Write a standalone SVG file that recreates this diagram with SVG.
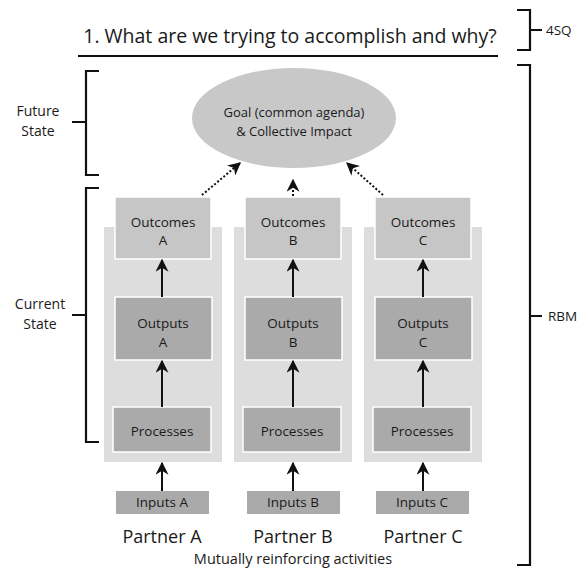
<svg xmlns="http://www.w3.org/2000/svg" width="588" height="568" viewBox="0 0 588 568">
<style>
text{font-family:"Open Sans","Liberation Sans",sans-serif;fill:#1a1a1a;text-anchor:middle}
.br{fill:none;stroke:#111;stroke-width:2.2}
.col{fill:#dddddd}
.oc{fill:#c6c6c6;stroke:#fff;stroke-width:1.5}
.dk{fill:#aaaaaa;stroke:#fff;stroke-width:1.5}
.in{fill:#aaaaaa}
.bx{font-size:13.5px}
.ar{stroke:#111;stroke-width:2;fill:none;marker-end:url(#ah)}
.dt{stroke:#111;stroke-width:2;fill:none;stroke-dasharray:2 2;marker-end:url(#ah)}
</style>
<defs>
<marker id="ah" viewBox="0 0 10 10" refX="9" refY="5" markerWidth="6.5" markerHeight="6.5" orient="auto" markerUnits="strokeWidth">
<path d="M0,0 L10,5 L0,10 L3,5 Z" fill="#111"/>
</marker>
</defs>
<g id="title">
<text x="290" y="43" font-size="19.5">1. What are we trying to accomplish and why?</text>
<line x1="78" y1="56" x2="498" y2="56" stroke="#111" stroke-width="2.2"/>
</g>
<g id="bracket-4sq">
<path class="br" d="M517,10 H530 V50 H517 M530,30 H542"/>
<text x="546" y="35" font-size="13.5" style="text-anchor:start">4SQ</text>
</g>
<g id="bracket-rbm">
<path class="br" d="M517,65 H530 V565 H517 M530,316 H542"/>
<text x="548" y="321" font-size="13.5" style="text-anchor:start">RBM</text>
</g>
<g id="bracket-future">
<path class="br" d="M99,71 H86 V175 H99 M72,122 H86"/>
<text x="38" y="116" font-size="14">Future</text>
<text x="38" y="136" font-size="14">State</text>
</g>
<g id="bracket-current">
<path class="br" d="M99,188 H86 V442 H99 M72,315 H86"/>
<text x="40" y="309" font-size="14">Current</text>
<text x="40" y="329" font-size="14">State</text>
</g>
<g id="goal">
<ellipse cx="294" cy="118" rx="102" ry="50" fill="#c8c8c8"/>
<text x="294" y="117" font-size="13">Goal (common agenda)</text>
<text x="294" y="136" font-size="13">&amp; Collective Impact</text>
</g>
<g id="column-a"><rect class="col" x="104" y="227" width="118" height="235"/></g>
<g id="column-b"><rect class="col" x="234" y="227" width="118" height="235"/></g>
<g id="column-c"><rect class="col" x="364" y="227" width="118" height="235"/></g>
<g id="outcomes-a"><rect class="oc" x="115" y="197" width="96" height="62"/><text class="bx" x="163" y="227">Outcomes</text><text class="bx" x="163" y="245">A</text></g>
<g id="outcomes-b"><rect class="oc" x="245" y="197" width="96" height="62"/><text class="bx" x="293" y="227">Outcomes</text><text class="bx" x="293" y="245">B</text></g>
<g id="outcomes-c"><rect class="oc" x="375" y="197" width="96" height="62"/><text class="bx" x="423" y="227">Outcomes</text><text class="bx" x="423" y="245">C</text></g>
<g id="outputs-a"><rect class="dk" x="115" y="297" width="97" height="63"/><text class="bx" x="163" y="328">Outputs</text><text class="bx" x="163" y="347">A</text></g>
<g id="outputs-b"><rect class="dk" x="245" y="297" width="97" height="63"/><text class="bx" x="293" y="328">Outputs</text><text class="bx" x="293" y="347">B</text></g>
<g id="outputs-c"><rect class="dk" x="375" y="297" width="97" height="63"/><text class="bx" x="423" y="328">Outputs</text><text class="bx" x="423" y="347">C</text></g>
<g id="processes-a"><rect class="dk" x="113" y="407" width="98" height="45"/><text class="bx" x="162" y="436">Processes</text></g>
<g id="processes-b"><rect class="dk" x="243" y="407" width="98" height="45"/><text class="bx" x="292" y="436">Processes</text></g>
<g id="processes-c"><rect class="dk" x="373" y="407" width="98" height="45"/><text class="bx" x="422" y="436">Processes</text></g>
<g id="inputs-a"><rect class="in" x="116" y="491" width="93" height="23"/><text class="bx" x="162" y="507">Inputs A</text></g>
<g id="inputs-b"><rect class="in" x="247" y="491" width="93" height="23"/><text class="bx" x="293" y="507">Inputs B</text></g>
<g id="inputs-c"><rect class="in" x="376" y="491" width="93" height="23"/><text class="bx" x="422" y="507">Inputs C</text></g>
<g id="partners">
<text x="162" y="543" font-size="18">Partner A</text>
<text x="293" y="543" font-size="18">Partner B</text>
<text x="423" y="543" font-size="18">Partner C</text>
<text x="293" y="564" font-size="14.5">Mutually reinforcing activities</text>
</g>
<g id="connectors">
<line class="ar" x1="162" y1="491" x2="162" y2="463"/>
<line class="ar" x1="293" y1="491" x2="293" y2="463"/>
<line class="ar" x1="423" y1="491" x2="423" y2="463"/>
<line class="ar" x1="162" y1="407" x2="162" y2="361"/>
<line class="ar" x1="293" y1="407" x2="293" y2="361"/>
<line class="ar" x1="423" y1="407" x2="423" y2="361"/>
<line class="ar" x1="162" y1="297" x2="162" y2="260"/>
<line class="ar" x1="293" y1="297" x2="293" y2="260"/>
<line class="ar" x1="423" y1="297" x2="423" y2="260"/>
<line class="dt" x1="202" y1="195" x2="240" y2="163"/>
<line class="dt" x1="293" y1="196" x2="293" y2="180"/>
<line class="dt" x1="383" y1="195" x2="347" y2="163"/>
</g>
</svg>
